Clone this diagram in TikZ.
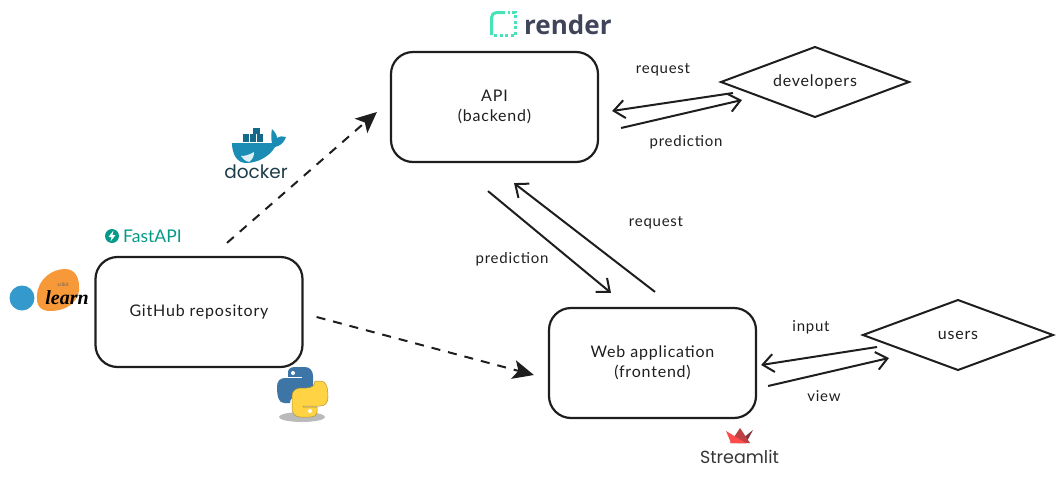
\documentclass[tikz,border=0pt]{standalone}
\usepackage{fontspec}
\setmainfont{Lato}[LetterSpace=5]
\newfontfamily\logofont{Poppins}
\newfontfamily\renderfont{Open Sans}
\newfontfamily\learnfont{Liberation Serif}
\usetikzlibrary{shapes.geometric,arrows.meta}
\definecolor{ink}{HTML}{1E1E1E}
\definecolor{renderteal}{HTML}{46E3B7}
\definecolor{renderslate}{HTML}{3F4459}
\definecolor{dockerblue}{HTML}{1B8DB5}
\definecolor{dockerdark}{HTML}{1D3C4A}
\definecolor{fastteal}{HTML}{059A88}
\definecolor{skblue}{HTML}{3499CD}
\definecolor{skorange}{HTML}{F89939}
\definecolor{pyblue}{HTML}{3C75A6}
\definecolor{pyyellow}{HTML}{FFD343}
\definecolor{slred}{HTML}{FF4B4B}
\definecolor{slmid}{HTML}{BD4043}
\definecolor{sldark}{HTML}{7D353B}
\newcommand{\pysnake}{(295,367) -- (305,367) .. controls (310,367) and (313,371) .. (313,376) -- (313,388) .. controls (313,393) and (309,396) .. (304,396) -- (298,396) .. controls (293,396) and (290,399) .. (290,403) -- (284,403) .. controls (279,403) and (277,397) .. (277,387) .. controls (277,381) and (280,378) .. (285,378) -- (302,378) -- (302,376.8) -- (288,376.8) -- (288,372) .. controls (288,369) and (291,367) .. (295,367) -- cycle}
\begin{document}
\begin{tikzpicture}[x=1pt,y=-1pt,
    box/.style={draw=ink, line width=2.2pt, rounded corners=22pt, minimum width=207pt, minimum height=110pt, align=center, font=\fontsize{16}{20}\selectfont, text=ink},
    actor/.style={diamond, draw=ink, line width=2pt, inner sep=0pt, outer sep=0pt, aspect=2.7, minimum width=#1, minimum height=70pt, font=\fontsize{16}{20}\selectfont, text=ink},
    flow/.style={draw=ink, line width=2pt, -{Straight Barb[length=11pt,width=18pt,line width=2pt]}},
    deploy/.style={draw=ink, line width=2pt, dash pattern=on 9pt off 8pt, -{Stealth[length=21pt,width=19pt,inset=5pt]}},
    tag/.style={font=\fontsize{15}{18}\selectfont, text=ink}]
\useasboundingbox (0,0) rectangle (1061,485);

% boxes
\node[box] (api) at (494.5,107) {API\\(backend)};
\node[box] (github) at (199,312) {GitHub repository};
\node[box] (web) at (652.5,363) {Web application\\(frontend)};
\node[actor=188pt] (developers) at (815,82) {developers};
\node[actor=190pt] (users) at (958,335) {users};

% deployments
\draw[deploy] ([xshift=28pt,yshift=13pt]github.north) -- ([xshift=-13pt,yshift=-5pt]api.west);
\draw[deploy] ([xshift=13pt,yshift=-5pt]github.east) -- ([xshift=-14pt,yshift=-12pt]web.west);

% requests and answers
\draw[flow] ([xshift=12pt,yshift=-11pt]developers.west) -- ([xshift=13pt,yshift=-4pt]api.east);
\draw[flow] ([xshift=22pt,yshift=-21pt]api.east) -- ([xshift=21pt,yshift=-18pt]developers.west);
\draw[flow] ([xshift=-6.5pt,yshift=-28pt]api.south) -- ([xshift=-41.5pt,yshift=14pt]web.north);
\draw[flow] ([xshift=2.5pt,yshift=15pt]web.north) -- ([xshift=19.5pt,yshift=-20pt]api.south);
\draw[flow] ([xshift=14pt,yshift=-12pt]users.west) -- ([xshift=4pt,yshift=-2pt]web.east);
\draw[flow] ([xshift=11pt,yshift=-23pt]web.east) -- ([xshift=26pt,yshift=-23pt]users.west);

% labels
\node[tag] (lblreqdev) at (663,70) {request};
\node[tag] (lblpreddev) at (686,142) {prediction};
\node[tag] (lblreqweb) at (656,223) {request};
\node[tag] (lblpredweb) at (512,259) {prediction};
\node[tag] (lblinput) at (811,327) {input};
\node[tag] (lblview) at (824,396) {view};

% render logo
\draw[renderteal, line width=3pt, rounded corners=5pt] (491.5,35) -- (491.5,12.5) -- (505,12.5);
\draw[renderteal, line width=3pt, dash pattern=on 3pt off 2.5pt] (494,35.5) -- (515,35.5) -- (515,12.5) -- (508,12.5);
\node[text=renderslate, font=\renderfont\bfseries\fontsize{26}{30}\selectfont, anchor=west, inner sep=0pt] (render) at (524,25) {render};

% docker logo
\fill[dockerblue] (232,143) -- (272,143) .. controls (271,139) and (271,134) .. (272,129) .. controls (275,132) and (277,135) .. (277,138) .. controls (280,136) and (283,136) .. (286,137) .. controls (284,143) and (280,146) .. (275,147) .. controls (270,156) and (258,163) .. (246,163) .. controls (237,163) and (232,154) .. (232,143) -- cycle;
\fill[white!85!dockerblue] (241,156) .. controls (245,156) and (249,155) .. (254,152) .. controls (254,156) and (253,159) .. (249,162) .. controls (245,161) and (243,159) .. (241,156) -- cycle;
\foreach \cx in {243,250,257}
  \fill[dockerblue!75!black] (\cx,134) rectangle ++(6,8);
\fill[dockerblue!75!black] (253,128) rectangle ++(7,5.5);
\node[text=dockerdark, font=\logofont\fontsize{18.5}{22}\selectfont, inner sep=0pt] (docker) at (256,172) {docker};

% fastapi logo
\fill[fastteal] (112,236) circle (7pt);
\fill[white] (113.5,230.5) -- (108.5,237) -- (111.5,237) -- (110.5,241.5) -- (115.5,235) -- (112.5,235) -- cycle;
\node[text=fastteal, font=\addfontfeature{LetterSpace=0}\fontsize{17.5}{20}\selectfont, anchor=west, inner sep=0pt] (fastapi) at (123,236) {FastAPI};

% scikit-learn logo
\fill[skblue] (22,298) ellipse (12.5pt and 12.5pt);
\fill[skorange] (37,295) .. controls (38,279) and (52,269) .. (65,269) .. controls (76,269) and (80,279) .. (79,291) .. controls (77,303) and (66,311) .. (50,311) .. controls (40,311) and (36,305) .. (37,295) -- cycle;
\node[text=ink!70, font=\addfontfeature{LetterSpace=0}\fontsize{5}{6}\selectfont, inner sep=0pt] (scikit) at (63,285) {scikit};
\node[text=black, font=\learnfont\bfseries\itshape\fontsize{20}{20}\selectfont, inner sep=0pt] (learn) at (67,298) {learn};

% python logo
\fill[black!45, opacity=0.6] (302,417) ellipse (23pt and 5pt);
\fill[pyblue] \pysnake;
\fill[pyyellow, draw=pyyellow!70!black, line width=0.5pt, rotate around={180:(302.5,392)}] \pysnake;
\fill[white] (293,373) circle (2pt);
\fill[white] (310,411) circle (2pt);

% streamlit logo
\fill[sldark] (753,430) -- (746,443) -- (737,443) -- cycle;
\fill[slmid] (740,428) -- (750,443) -- (730,443) -- cycle;
\fill[slred] (726,431) -- (746,443) -- (731,443) -- cycle;
\node[text=ink!90, font=\logofont\fontsize{17.5}{21}\selectfont, inner sep=0pt] (streamlit) at (739.5,457) {Streamlit};
\end{tikzpicture}
\end{document}
